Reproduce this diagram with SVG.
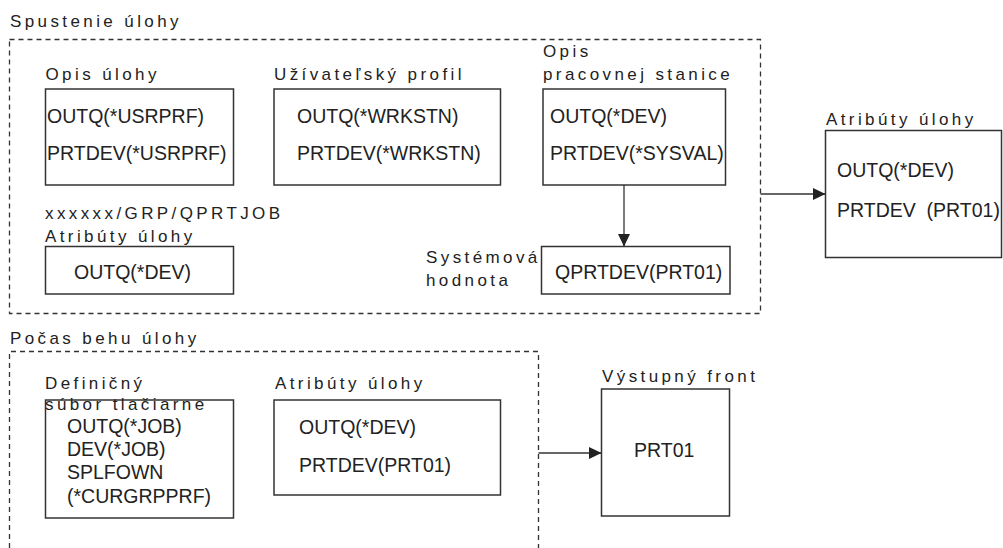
<svg xmlns="http://www.w3.org/2000/svg" width="1003" height="548" viewBox="0 0 1003 548">
<style>
  .lbl { font-family: "Liberation Sans", Arial, sans-serif; font-size: 17px; letter-spacing: 3.4px; fill: #222; }
  .txt { font-family: "Liberation Sans", Arial, sans-serif; font-size: 19.5px; fill: #222; }
  .box { fill: #fff; stroke: #333; stroke-width: 1.5; }
  .dash { fill: none; stroke: #333; stroke-width: 1.3; stroke-dasharray: 5 4; }
  .conn { fill: none; stroke: #333; stroke-width: 1.3; }
</style>
<defs>
  <marker id="arrow" markerUnits="userSpaceOnUse" markerWidth="13" markerHeight="12" refX="12.5" refY="6" orient="auto">
    <path d="M0,0 L12.5,6 L0,12 Z" fill="#222"/>
  </marker>
</defs>
<rect width="1003" height="548" fill="#fff"/>

<g id="section-start">
  <text class="lbl" x="10" y="26.5">Spustenie úlohy</text>
  <rect class="dash" x="9.5" y="39.5" width="751" height="274"/>
</g>

<g id="section-run">
  <text class="lbl" x="10" y="344">Počas behu úlohy</text>
  <path class="dash" d="M9.5,548 V351.5 H538.5 V548"/>
</g>

<g id="opis-ulohy">
  <text class="lbl" x="45.5" y="80">Opis úlohy</text>
  <rect class="box" x="45.5" y="89" width="188" height="96"/>
  <text class="txt" x="47" y="123">OUTQ(*USRPRF)</text>
  <text class="txt" x="47" y="160">PRTDEV(*USRPRF)</text>
</g>

<g id="uzivatelsky-profil">
  <text class="lbl" x="274" y="80">Užívateľský profil</text>
  <rect class="box" x="274" y="89" width="226.5" height="96"/>
  <text class="txt" x="297" y="123">OUTQ(*WRKSTN)</text>
  <text class="txt" x="297" y="160">PRTDEV(*WRKSTN)</text>
</g>

<g id="opis-pracovnej-stanice">
  <text class="lbl" x="543" y="57">Opis</text>
  <text class="lbl" x="543" y="80">pracovnej stanice</text>
  <rect class="box" x="543" y="89" width="182.5" height="96"/>
  <text class="txt" x="550" y="122.5">OUTQ(*DEV)</text>
  <text class="txt" x="550" y="160">PRTDEV(*SYSVAL)</text>
</g>

<g id="qprtjob-atributy">
  <text class="lbl" x="45" y="219">xxxxxx/GRP/QPRTJOB</text>
  <text class="lbl" x="45" y="241.5">Atribúty úlohy</text>
  <rect class="box" x="45.5" y="246.5" width="188" height="47.5"/>
  <text class="txt" x="74" y="279">OUTQ(*DEV)</text>
</g>

<g id="systemova-hodnota">
  <text class="lbl" x="426" y="263">Systémová</text>
  <text class="lbl" x="426" y="286">hodnota</text>
  <rect class="box" x="541.5" y="246.5" width="188.5" height="47.5"/>
  <text class="txt" x="555" y="279">QPRTDEV(PRT01)</text>
</g>

<g id="atributy-ulohy-vysledok">
  <text class="lbl" x="826" y="124.5">Atribúty úlohy</text>
  <rect class="box" x="825.5" y="130.5" width="176" height="127"/>
  <text class="txt" x="837" y="177">OUTQ(*DEV)</text>
  <text class="txt" x="837" y="217" xml:space="preserve" style="white-space:pre">PRTDEV  (PRT01)</text>
</g>

<g id="definicny-subor">
  <text class="lbl" x="45" y="389">Definičný</text>
  <rect class="box" x="45.5" y="400" width="188" height="118"/>
  <text class="lbl" x="45" y="410">súbor tlačiarne</text>
  <text class="txt" x="67" y="432.5">OUTQ(*JOB)</text>
  <text class="txt" x="67" y="456">DEV(*JOB)</text>
  <text class="txt" x="67" y="479">SPLFOWN</text>
  <text class="txt" x="67" y="502.5">(*CURGRPPRF)</text>
</g>

<g id="atributy-ulohy-beh">
  <text class="lbl" x="275" y="389">Atribúty úlohy</text>
  <rect class="box" x="274" y="400" width="226.5" height="95"/>
  <text class="txt" x="299" y="434">OUTQ(*DEV)</text>
  <text class="txt" x="299" y="472">PRTDEV(PRT01)</text>
</g>

<g id="vystupny-front">
  <text class="lbl" x="602" y="381.5">Výstupný front</text>
  <rect class="box" x="601.5" y="389" width="128" height="127"/>
  <text class="txt" x="634" y="457">PRT01</text>
</g>

<g id="connectors">
  <line class="conn" x1="624" y1="185" x2="624" y2="246.5" marker-end="url(#arrow)"/>
  <line class="conn" x1="760.5" y1="194" x2="825.5" y2="194" marker-end="url(#arrow)"/>
  <line class="conn" x1="538.5" y1="453" x2="601.5" y2="453" marker-end="url(#arrow)"/>
</g>
</svg>
